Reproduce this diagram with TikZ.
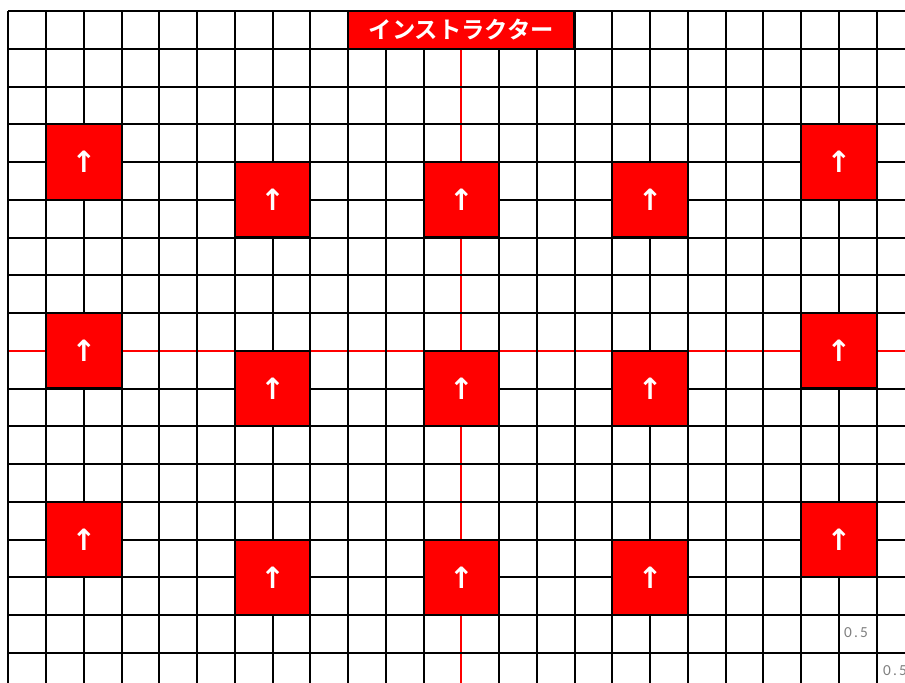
\documentclass[tikz,border=0pt]{standalone}
\usepackage{fontspec}
\newfontfamily\jpfont{Noto Sans CJK JP}[BoldFont={* Bold}]
\newfontfamily\symfont{DejaVu Sans}[BoldFont={* Bold}]
\newfontfamily\labfont{Carlito}[LetterSpace=15]
\definecolor{seatred}{RGB}{255,0,0}
\begin{document}
\begin{tikzpicture}[x=0.75pt,y=-0.75pt,
  gridline/.style={black,line width=1.5pt},
  axisline/.style={seatred,line width=1.5pt},
  seat/.style={draw=black,line width=1.5pt,fill=seatred,minimum width=56.6pt,minimum height=56.6pt,inner sep=0pt,text=white,font=\symfont\bfseries\fontsize{22}{22}\selectfont},
  titlebox/.style={draw=black,line width=1.5pt,fill=seatred,minimum width=169.7pt,minimum height=28.3pt,inner sep=0pt,text=white,font=\jpfont\bfseries\fontsize{17.5}{17.5}\selectfont},
  sizelabel/.style={text=gray,font=\labfont\fontsize{11.5}{11.5}\selectfont,inner sep=0pt}]
\useasboundingbox (0,0) rectangle (905,682);
\clip (0,0) rectangle (905,682);
\fill[white] (0,0) rectangle (905,682);
% center axes (under the grid, in place of its middle lines)
\coordinate (vtop) at (461.3,48.75);
\coordinate (vbot) at (461.3,700);
\coordinate (hleft) at (8.3,350.75);
\coordinate (hright) at (920,350.75);
\draw[axisline] (vtop) -- (vbot);
\draw[axisline] (hleft) -- (hright);
% grid
\foreach \i in {0,...,11,13,14,...,24} {
  \draw[gridline] ({8.3+37.75*\i},11) -- ({8.3+37.75*\i},700);
}
\foreach \j in {0,...,8,10,11,...,18} {
  \draw[gridline] (8.3,{11+37.75*\j}) -- (920,{11+37.75*\j});
}
% seats
\node[seat] (s11) at (83.8,162) {↑};
\node[seat] (s12) at (272.55,199.75) {↑};
\node[seat] (s13) at (461.3,199.75) {↑};
\node[seat] (s14) at (650.05,199.75) {↑};
\node[seat] (s15) at (838.8,162) {↑};
\node[seat] (s21) at (83.8,350.75) {↑};
\node[seat] (s22) at (272.55,388.5) {↑};
\node[seat] (s23) at (461.3,388.5) {↑};
\node[seat] (s24) at (650.05,388.5) {↑};
\node[seat] (s25) at (838.8,350.75) {↑};
\node[seat] (s31) at (83.8,539.5) {↑};
\node[seat] (s32) at (272.55,577.25) {↑};
\node[seat] (s33) at (461.3,577.25) {↑};
\node[seat] (s34) at (650.05,577.25) {↑};
\node[seat] (s35) at (838.8,539.5) {↑};
% instructor
\node[titlebox] (instr) at (461.3,29.9) {インストラクター};
% size labels
\node[sizelabel] (lab1) at (856,633) {0.5};
\node[sizelabel] (lab2) at (895,670.5) {0.5};
\end{tikzpicture}
\end{document}
